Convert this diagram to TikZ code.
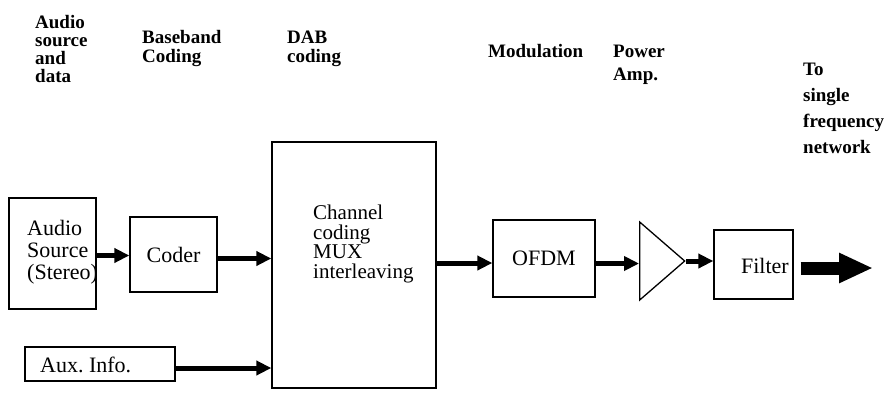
\documentclass[tikz,border=0pt]{standalone}
\usepackage{fontspec}
\setmainfont{Liberation Serif}
\usetikzlibrary{arrows.meta,shapes.geometric,positioning}

\newcommand{\boxfont}{\fontsize{22}{22}\selectfont}
\newcommand{\headfont}{\fontsize{19}{19}\selectfont\bfseries}

\begin{document}
\begin{tikzpicture}[x=1pt,y=-1pt]
\tikzset{
  block/.style={rectangle,draw,line width=1.3pt,inner sep=0},
  head/.style={anchor=base west,align=left,inner sep=0},
  intext/.style={anchor=base west,align=left,inner sep=0,font=\boxfont},
  fat/.style={line width=5pt,-{Triangle[length=15pt,width=14pt]}},
  fatter/.style={line width=13pt,-{Triangle[length=34pt,width=28pt]}}
}
\useasboundingbox (0,0) rectangle (890,394);

% column headings (anchored on their last line)
\node[head,font={\fontsize{19}{18}\selectfont\bfseries}] (srchead) at (35,82) {Audio\\source\\and\\data};
\node[head,font={\fontsize{19}{19}\selectfont\bfseries}] (bbhead) at (142,62) {Baseband\\Coding};
\node[head,font={\fontsize{19}{19}\selectfont\bfseries}] (dabhead) at (287,62) {DAB\\coding};
\node[head,font=\headfont] (modhead) at (488,57) {Modulation};
\node[head,font={\fontsize{19}{23}\selectfont\bfseries}] (amphead) at (613,80) {Power\\Amp.};
\node[head,font={\fontsize{19}{26}\selectfont\bfseries}] (sfnhead) at (803,153) {To\\single\\frequency\\network};

% blocks
\node[block,minimum width=87pt,minimum height=111pt] (src) at (52.5,253.5) {};
\node[intext,font={\fontsize{22}{22}\selectfont}] (srctext) at (27,279) {Audio\\Source\\(Stereo)};
\node[block,minimum width=87pt,minimum height=75pt,font=\boxfont] (coder) at (173.5,254.5) {Coder};
\node[block,minimum width=164pt,minimum height=246pt] (chan) at (354,265) {};
\node[intext,font={\fontsize{21}{19.5}\selectfont}] (chantext) at (313,278) {Channel\\coding\\MUX\\interleaving};
\node[block,minimum width=150pt,minimum height=34pt] (aux) at (100,364) {};
\node[intext] (auxtext) at (40,372) {Aux.\ Info.};
\node[block,minimum width=102pt,minimum height=77pt,font=\boxfont] (ofdm) at (544,258.5) {OFDM};
\node[isosceles triangle,isosceles triangle stretches,draw,line width=1.3pt,inner sep=0,
      minimum width=78pt,minimum height=45pt] (amp) at (657.5,261) {};
\node[block,minimum width=79pt,minimum height=69pt] (filt) at (753.5,264.5) {};
\node[intext,anchor=base east] (filttext) at (789,273) {Filter};
\coordinate (sfn) at (873,268);

% signal flow
\draw[fat] ([yshift=-2pt]src.east) -- ([yshift=-2pt]src.east -| coder.west);
\draw[fat] ([yshift=-4pt]coder.east) -- ([yshift=-4pt]coder.east -| chan.west);
\draw[fat] ([yshift=-4pt]aux.east) -- ([yshift=-4pt]aux.east -| chan.west);
\draw[fat] ([yshift=-4.5pt]chan.east |- ofdm.west) -- ([yshift=-4.5pt]ofdm.west);
\draw[fat] ([yshift=-5pt]ofdm.east) -- ([yshift=-5pt]ofdm.east -| amp.west);
\draw[fat] (amp.apex) -- (amp.apex -| filt.west);
\draw[fatter] ([xshift=7pt,yshift=-3.5pt]filt.east) -- (sfn);
\end{tikzpicture}
\end{document}
